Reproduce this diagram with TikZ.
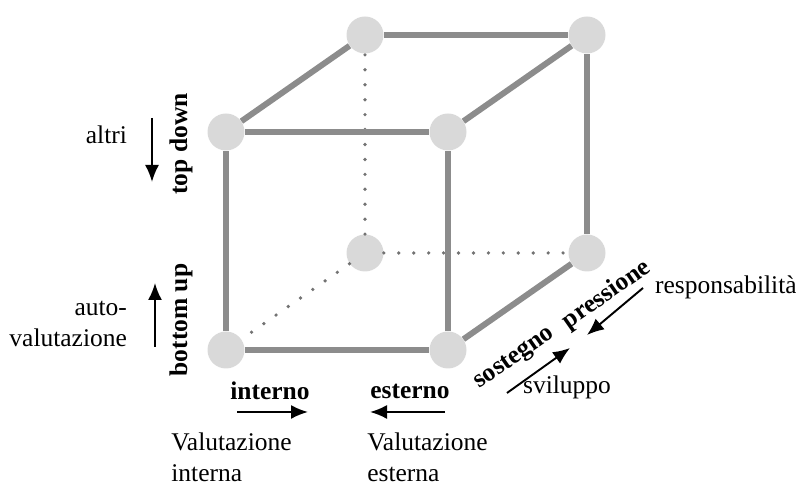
\documentclass[tikz,border=0pt]{standalone}
\usepackage{fontspec}
\setmainfont{Liberation Serif}
\usetikzlibrary{positioning,arrows.meta}

\begin{document}
\begin{tikzpicture}[font=\fontsize{14.5}{17.5}\selectfont,
    vertex/.style={circle, fill=black!15, minimum size=0.74cm, inner sep=0pt},
    edge/.style={draw=black!45, line width=3.4pt},
    hidden/.style={draw=black!55, line width=2.1pt, line cap=round, dash pattern=on 0pt off 8.5pt},
    dir/.style={-{Latex[length=3.4mm,width=2.8mm]}, line width=1.1pt},
    axis/.style={font=\fontsize{14.5}{17}\selectfont\bfseries, inner sep=0pt}]
    \useasboundingbox (0,0) rectangle (15.92,9.74);
    % cube corners
    \node[vertex] (fbl) at (4.52,2.74) {};
    \node[vertex] (fbr) at (8.96,2.74) {};
    \node[vertex] (ftl) at (4.52,7.10) {};
    \node[vertex] (ftr) at (8.96,7.10) {};
    \node[vertex] (bbl) at (7.30,4.68) {};
    \node[vertex] (bbr) at (11.74,4.68) {};
    \node[vertex] (btl) at (7.30,9.04) {};
    \node[vertex] (btr) at (11.74,9.04) {};
    % hidden edges
    \draw[hidden] (bbl) -- (btl);
    \draw[hidden] (bbl) -- (bbr);
    \draw[hidden] (bbl) -- (fbl);
    % visible edges
    \draw[edge] (fbl) -- (fbr);
    \draw[edge] (fbl) -- (ftl);
    \draw[edge] (fbr) -- (ftr);
    \draw[edge] (ftl) -- (ftr);
    \draw[edge] (ftl) -- (btl);
    \draw[edge] (ftr) -- (btr);
    \draw[edge] (btl) -- (btr);
    \draw[edge] (btr) -- (bbr);
    \draw[edge] (fbr) -- (bbr);

    % vertical axis
    \node[axis, rotate=90] (topdown) at (3.62,6.86) {top down};
    \node[axis, rotate=90] (bottomup) at (3.62,3.34) {bottom up};
    \coordinate (d1) at (3.04,7.38);
    \coordinate (d2) at (3.04,6.10);
    \draw[dir] (d1) -- (d2);
    \node[anchor=east, inner sep=1pt] (altri) at (2.58,7.04) {altri};
    \coordinate (u1) at (3.10,2.80);
    \coordinate (u2) at (3.10,4.08);
    \draw[dir] (u1) -- (u2);
    \node[anchor=east, align=right, inner sep=1pt] (auto) at (2.58,3.26) {auto-\\valutazione};

    % horizontal axis
    \node[axis] (interno) at (5.40,1.92) {interno};
    \node[axis] (esterno) at (8.20,1.92) {esterno};
    \coordinate (i1) at (4.74,1.50);
    \coordinate (i2) at (6.16,1.50);
    \draw[dir] (i1) -- (i2);
    \coordinate (e1) at (8.90,1.50);
    \coordinate (e2) at (7.40,1.50);
    \draw[dir] (e1) -- (e2);
    \node[anchor=west, align=left, inner sep=0pt] (valint) at (3.42,0.60) {Valutazione\\interna};
    \node[anchor=west, align=left, inner sep=0pt] (valest) at (7.34,0.60) {Valutazione\\esterna};

    % depth axis
    \node[axis, rotate=35] (pressione) at (12.14,3.84) {pressione};
    \node[axis, rotate=35] (sostegno) at (10.30,2.56) {sostegno};
    \node[anchor=west, inner sep=1pt] (resp) at (13.06,4.00) {responsabilità};
    \coordinate (r1) at (12.86,3.98);
    \coordinate (r2) at (11.74,3.04);
    \draw[dir] (r1) -- (r2);
    \coordinate (s1) at (10.14,1.88);
    \coordinate (s2) at (11.40,2.78);
    \draw[dir] (s1) -- (s2);
    \node[anchor=west, inner sep=1pt] (svil) at (10.42,2.00) {sviluppo};
\end{tikzpicture}
\end{document}
